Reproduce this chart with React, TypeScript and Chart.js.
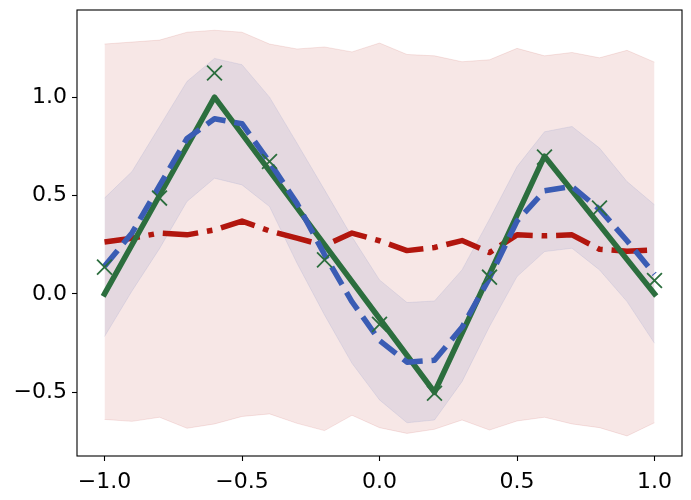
import React, { useEffect, useRef } from "react";
import { Chart, registerables } from "chart.js";

Chart.register(...registerables);

// fine grid (21 points)
const xFine = [-1.0, -0.9, -0.8, -0.7, -0.6, -0.5, -0.4, -0.3, -0.2, -0.1, 0.0, 0.1, 0.2, 0.3, 0.4, 0.5, 0.6, 0.7, 0.8, 0.9, 1.0];
const redUpper = [1.27, 1.28, 1.29, 1.33, 1.34, 1.33, 1.27, 1.245, 1.255, 1.23, 1.275, 1.217, 1.21, 1.18, 1.19, 1.248, 1.21, 1.227, 1.2, 1.238, 1.178];
const redLower = [-0.638, -0.648, -0.627, -0.683, -0.661, -0.623, -0.61, -0.658, -0.695, -0.617, -0.68, -0.709, -0.688, -0.641, -0.692, -0.646, -0.627, -0.661, -0.68, -0.722, -0.655];
const redMean = [0.264, 0.283, 0.309, 0.3, 0.325, 0.37, 0.32, 0.283, 0.246, 0.309, 0.27, 0.22, 0.236, 0.271, 0.21, 0.3, 0.295, 0.3, 0.227, 0.217, 0.224];
const blueUpper = [0.487, 0.622, 0.851, 1.08, 1.197, 1.165, 1.0, 0.766, 0.529, 0.29, 0.071, -0.044, -0.036, 0.122, 0.38, 0.647, 0.824, 0.851, 0.741, 0.571, 0.453];
const blueLower = [-0.217, 0.015, 0.23, 0.47, 0.588, 0.554, 0.444, 0.156, -0.107, -0.353, -0.539, -0.655, -0.641, -0.446, -0.166, 0.088, 0.215, 0.232, 0.122, -0.039, -0.251];
const blueMean = [0.14, 0.31, 0.55, 0.79, 0.89, 0.865, 0.67, 0.46, 0.2, -0.04, -0.237, -0.347, -0.337, -0.17, 0.08, 0.37, 0.524, 0.546, 0.43, 0.27, 0.1];

// coarse grid (11 points)
const xCoarse = [-1.0, -0.8, -0.6, -0.4, -0.2, 0.0, 0.2, 0.4, 0.6, 0.8, 1.0];
const trueY = [0, 0.5, 1.0, 0.625, 0.25, -0.125, -0.5, 0.1, 0.7, 0.35, 0];
const obsY = [0.136, 0.487, 1.123, 0.673, 0.173, -0.155, -0.505, 0.085, 0.695, 0.436, 0.068];

const xTicks = [-1.0, -0.5, 0.0, 0.5, 1.0];
const yTicks = [-0.5, 0.0, 0.5, 1.0];

const GREEN = "rgb(44,110,62)";
const BLUE = "rgb(58,92,180)";
const RED = "rgb(178,22,14)";
const RED_A = "rgba(178,22,14,0.1)";
const BLUE_A = "rgba(58,92,180,0.1)";

const pts = (xs: number[], ys: number[]) => xs.map((x, i) => ({ x, y: ys[i] }));
const fmt = (v: number) => {
  const s = Math.abs(v).toFixed(1);
  return v < -1e-9 ? "\u2212" + s : s;
};

const framePlugin = {
  id: "frame",
  afterDraw(chart: any) {
    const { ctx, chartArea: a } = chart;
    ctx.save();
    ctx.strokeStyle = "#000";
    ctx.lineWidth = 1.1;
    ctx.strokeRect(a.left, a.top, a.right - a.left, a.bottom - a.top);
    ctx.restore();
  },
};

export default function App() {
  const ref = useRef<HTMLCanvasElement | null>(null);
  useEffect(() => {
    if (!ref.current) return;
    const font = { family: "DejaVu Sans", size: 22 };
    const chart = new Chart(ref.current, {
      type: "line",
      data: {
        datasets: [
          {
            data: pts(xFine, redUpper),
            borderColor: RED_A,
            backgroundColor: RED_A,
            borderWidth: 1,
            pointRadius: 0,
            fill: "+1",
            order: 10,
          } as any,
          {
            data: pts(xFine, redLower),
            borderColor: RED_A,
            borderWidth: 1,
            pointRadius: 0,
            fill: false,
            order: 10,
          },
          {
            data: pts(xFine, blueUpper),
            borderColor: BLUE_A,
            backgroundColor: BLUE_A,
            borderWidth: 1,
            pointRadius: 0,
            fill: "+1",
            order: 9,
          },
          {
            data: pts(xFine, blueLower),
            borderColor: BLUE_A,
            borderWidth: 1,
            pointRadius: 0,
            fill: false,
            order: 9,
          },
          {
            data: pts(xFine, redMean),
            borderColor: RED,
            borderWidth: 5.5,
            borderDash: [35.6, 8.9, 5.6, 8.9],
            borderCapStyle: "butt",
            borderJoinStyle: "round",
            pointRadius: 0,
            fill: false,
            order: 4,
          },
          {
            data: pts(xCoarse, trueY),
            borderColor: GREEN,
            borderWidth: 5.5,
            borderCapStyle: "square",
            borderJoinStyle: "round",
            pointRadius: 0,
            fill: false,
            order: 3,
          },
          {
            data: pts(xFine, blueMean),
            borderColor: BLUE,
            borderWidth: 5.5,
            borderDash: [20.6, 8.9],
            borderCapStyle: "butt",
            borderJoinStyle: "round",
            pointRadius: 0,
            fill: false,
            order: 2,
          },
          {
            data: pts(xCoarse, obsY),
            showLine: false,
            pointStyle: "crossRot",
            pointRadius: 10.5,
            pointBorderColor: GREEN,
            pointBorderWidth: 1.8,
            borderColor: GREEN,
            fill: false,
            order: 1,
          },
        ],
      },
      options: {
        animation: false,
        responsive: true,
        maintainAspectRatio: false,
        devicePixelRatio: 1,
        layout: { autoPadding: false, padding: { left: 0, top: 10, right: 9, bottom: 0 } },
        plugins: { legend: { display: false }, tooltip: { enabled: false } },
        elements: { line: { tension: 0 } },
        scales: {
          x: {
            type: "linear",
            min: -1.1,
            max: 1.1,
            afterBuildTicks: (s: any) => {
              s.ticks = xTicks.map((v) => ({ value: v }));
            },
            afterFit: (s: any) => {
              s.height = 44;
              s.paddingLeft = 0;
              s.paddingRight = 0;
              s.paddingTop = 0;
              s.paddingBottom = 0;
            },
            ticks: { font, color: "#000", padding: 8, maxRotation: 0, autoSkip: false, callback: (v: any) => fmt(Number(v)) },
            grid: { drawOnChartArea: false, drawTicks: true, tickLength: 5, tickColor: "#000", tickWidth: 1.1 },
            border: { display: false },
          },
          y: {
            type: "linear",
            min: -0.824,
            max: 1.443,
            afterBuildTicks: (s: any) => {
              s.ticks = yTicks.map((v) => ({ value: v }));
            },
            afterFit: (s: any) => {
              s.width = 77;
              s.paddingLeft = 0;
              s.paddingRight = 0;
              s.paddingTop = 0;
              s.paddingBottom = 0;
            },
            ticks: { font, color: "#000", padding: 5, autoSkip: false, callback: (v: any) => fmt(Number(v)) },
            grid: { drawOnChartArea: false, drawTicks: true, tickLength: 5, tickColor: "#000", tickWidth: 1.1 },
            border: { display: false },
          },
        },
      },
      plugins: [framePlugin],
    } as any);
    return () => chart.destroy();
  }, []);
  return (
    <div style={{ position: "fixed", left: 0, top: 0, width: 691, height: 500, background: "#fff" }}>
      <canvas ref={ref} />
    </div>
  );
}
